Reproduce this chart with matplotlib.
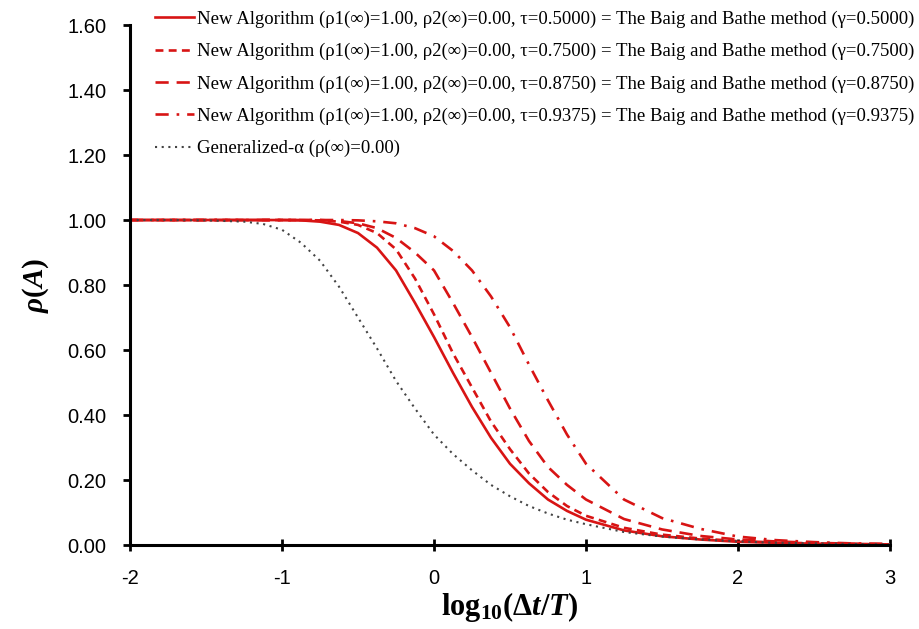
import matplotlib
matplotlib.use("Agg")
import matplotlib.pyplot as plt

# log10(dt/T) sample points
x = [-2, -1.75, -1.5, -1.25, -1.125, -1, -0.875, -0.75, -0.625, -0.5, -0.375, -0.25, -0.125,
     0, 0.125, 0.25, 0.375, 0.5, 0.625, 0.75, 0.875, 1, 1.25, 1.5, 1.75, 2, 2.25, 2.5, 2.75, 3]

# spectral radius, new algorithm tau=0.5000
rho_t5000 = [1.0, 1.0, 1.0, 1.0, 1.0, 1.0, 0.999, 0.995, 0.985, 0.96, 0.915, 0.845, 0.745,
             0.64, 0.53, 0.425, 0.33, 0.25, 0.19, 0.14, 0.105, 0.078, 0.045, 0.027, 0.017, 0.01, 0.007, 0.004, 0.003, 0.002]
# tau=0.7500
rho_t7500 = [1.0, 1.0, 1.0, 1.0, 1.0, 1.0, 1.0, 0.999, 0.995, 0.985, 0.96, 0.91, 0.82,
             0.71, 0.59, 0.485, 0.38, 0.295, 0.22, 0.163, 0.12, 0.09, 0.053, 0.032, 0.02, 0.012, 0.008, 0.005, 0.003, 0.002]
# tau=0.8750
rho_t8750 = [1.0, 1.0, 1.0, 1.0, 1.0, 1.0, 1.0, 1.0, 0.997, 0.99, 0.975, 0.945, 0.90,
             0.845, 0.745, 0.64, 0.53, 0.42, 0.32, 0.24, 0.185, 0.14, 0.08, 0.048, 0.028, 0.017, 0.011, 0.007, 0.004, 0.003]
# tau=0.9375
rho_t9375 = [1.0, 1.0, 1.0, 1.0, 1.0, 1.0, 1.0, 1.0, 1.0, 0.999, 0.996, 0.99, 0.975,
             0.95, 0.905, 0.845, 0.765, 0.67, 0.555, 0.445, 0.34, 0.25, 0.14, 0.083, 0.05, 0.026, 0.015, 0.009, 0.005, 0.003]
# generalized-alpha, rho_inf = 0
rho_galpha = [1.0, 1.0, 0.999, 0.995, 0.988, 0.97, 0.93, 0.875, 0.795, 0.70, 0.605, 0.505, 0.42,
              0.34, 0.28, 0.23, 0.185, 0.15, 0.12, 0.097, 0.078, 0.064, 0.04, 0.026, 0.017, 0.011, 0.007, 0.005, 0.003, 0.002]

labels = [
    "New Algorithm (ρ1(∞)=1.00, ρ2(∞)=0.00, τ=0.5000) = The Baig and Bathe method (γ=0.5000)",
    "New Algorithm (ρ1(∞)=1.00, ρ2(∞)=0.00, τ=0.7500) = The Baig and Bathe method (γ=0.7500)",
    "New Algorithm (ρ1(∞)=1.00, ρ2(∞)=0.00, τ=0.8750) = The Baig and Bathe method (γ=0.8750)",
    "New Algorithm (ρ1(∞)=1.00, ρ2(∞)=0.00, τ=0.9375) = The Baig and Bathe method (γ=0.9375)",
    "Generalized-α (ρ(∞)=0.00)",
]

plt.rcParams['axes.unicode_minus'] = False
plt.rcParams['mathtext.fontset'] = 'custom'
plt.rcParams['mathtext.rm'] = 'Liberation Serif:bold'
plt.rcParams['mathtext.it'] = 'Liberation Serif:italic:bold'
plt.rcParams['mathtext.bf'] = 'Liberation Serif:bold'

red = '#d81414'
fig = plt.figure(figsize=(9.2, 6.29), dpi=100)
ax = fig.add_axes([0.1413, 0.1335, 0.8261, 0.8267])

ax.plot(x, rho_t5000, color=red, lw=1.9, label=labels[0])
ax.plot(x, rho_t7500, color=red, lw=1.9, linestyle=(0, (3, 2)), label=labels[1])
ax.plot(x, rho_t8750, color=red, lw=1.9, linestyle=(0, (5, 3)), label=labels[2])
ax.plot(x, rho_t9375, color=red, lw=1.9, linestyle=(0, (5, 3, 1, 3)), label=labels[3])
ax.plot(x, rho_galpha, color='#444444', lw=1.5, linestyle=(0, (1, 2.2)), label=labels[4])

ax.set_xlim(-2, 3)
ax.set_ylim(0, 1.6)
ax.set_xticks([-2, -1, 0, 1, 2, 3])
ax.set_yticks([0, 0.2, 0.4, 0.6, 0.8, 1.0, 1.2, 1.4, 1.6])
ax.set_yticklabels(["%.2f" % v for v in ax.get_yticks()])

for s in ['top', 'right']:
    ax.spines[s].set_visible(False)
for s in ['left', 'bottom']:
    ax.spines[s].set_linewidth(2.2)

ax.tick_params(axis='y', direction='out', length=5, width=2, labelsize=14.5, pad=12)
ax.tick_params(axis='x', direction='inout', length=9, width=2, labelsize=14.5, pad=13)
for t in ax.get_xticklabels() + ax.get_yticklabels():
    t.set_fontfamily('Liberation Sans')

ax.set_xlabel(r'$\mathrm{log}_{10}(\Delta t/T)$', fontsize=22, labelpad=1)
ax.set_ylabel(r'$\rho(A)$', fontsize=21, labelpad=12)

fig.legend(loc='upper right', bbox_to_anchor=(1.0, 0.992), frameon=False,
           prop={'family': 'Liberation Serif', 'size': 13.5},
           handlelength=2.1, handletextpad=0.15, labelspacing=0.8, borderpad=0.3,
           borderaxespad=0.0)

fig.savefig('out.png', dpi=100)
